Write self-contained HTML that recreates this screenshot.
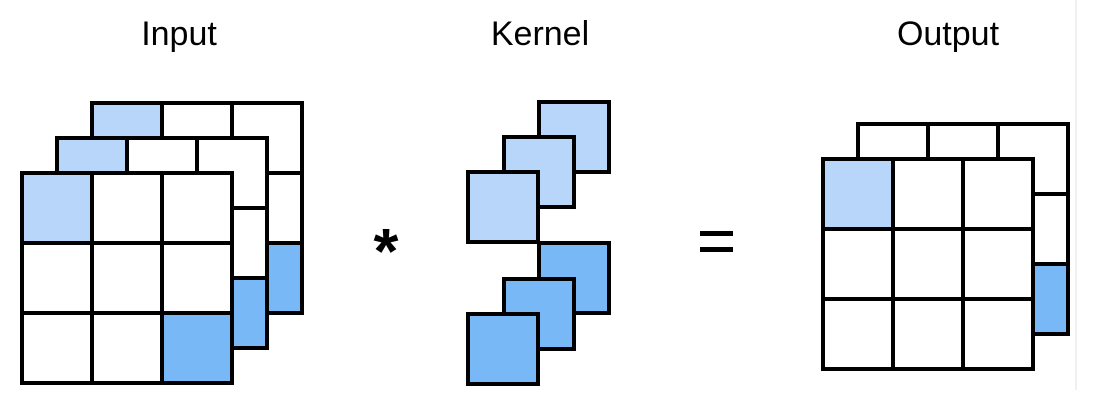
<!DOCTYPE html>
<html><head><style>html,body{margin:0;padding:0;background:#fff;}svg{display:block}</style></head>
<body>
<svg width="1098" height="418" viewBox="0 0 1098 418" xmlns="http://www.w3.org/2000/svg">
<line x1="1076" y1="0" x2="1076" y2="390" stroke="#f0f0f0" stroke-width="2"/>
<g font-family="Liberation Sans, Arial, sans-serif" font-size="34" fill="#000" text-anchor="middle">
<text x="179" y="45">Input</text>
<text x="540" y="45">Kernel</text>
<text x="948" y="45">Output</text>
</g>
<text x="386" y="273" font-family="Liberation Sans, Arial, sans-serif" font-size="64" font-weight="bold" text-anchor="middle">*</text>
<rect x="700" y="231" width="33" height="5" fill="#000"/>
<rect x="700" y="247" width="33" height="5" fill="#000"/>
<g stroke="#000" stroke-width="4" stroke-linejoin="miter">
<g transform="translate(92,103)">
<rect x="0" y="0" width="70" height="70" fill="#b7d6f9"/><rect x="70" y="0" width="70" height="70" fill="#fff"/><rect x="140" y="0" width="70" height="70" fill="#fff"/>
<rect x="0" y="70" width="70" height="70" fill="#fff"/><rect x="70" y="70" width="70" height="70" fill="#fff"/><rect x="140" y="70" width="70" height="70" fill="#fff"/>
<rect x="0" y="140" width="70" height="70" fill="#fff"/><rect x="70" y="140" width="70" height="70" fill="#fff"/><rect x="140" y="140" width="70" height="70" fill="#79b8f7"/>
</g>
<g transform="translate(57,138)">
<rect x="0" y="0" width="70" height="70" fill="#b7d6f9"/><rect x="70" y="0" width="70" height="70" fill="#fff"/><rect x="140" y="0" width="70" height="70" fill="#fff"/>
<rect x="0" y="70" width="70" height="70" fill="#fff"/><rect x="70" y="70" width="70" height="70" fill="#fff"/><rect x="140" y="70" width="70" height="70" fill="#fff"/>
<rect x="0" y="140" width="70" height="70" fill="#fff"/><rect x="70" y="140" width="70" height="70" fill="#fff"/><rect x="140" y="140" width="70" height="70" fill="#79b8f7"/>
</g>
<g transform="translate(22,173)">
<rect x="0" y="0" width="70" height="70" fill="#b7d6f9"/><rect x="70" y="0" width="70" height="70" fill="#fff"/><rect x="140" y="0" width="70" height="70" fill="#fff"/>
<rect x="0" y="70" width="70" height="70" fill="#fff"/><rect x="70" y="70" width="70" height="70" fill="#fff"/><rect x="140" y="70" width="70" height="70" fill="#fff"/>
<rect x="0" y="140" width="70" height="70" fill="#fff"/><rect x="70" y="140" width="70" height="70" fill="#fff"/><rect x="140" y="140" width="70" height="70" fill="#79b8f7"/>
</g>
<rect x="539" y="102" width="70" height="70" fill="#b7d6f9"/>
<rect x="504" y="137" width="70" height="70" fill="#b7d6f9"/>
<rect x="468" y="172" width="70" height="70" fill="#b7d6f9"/>
<rect x="539" y="243" width="70" height="70" fill="#79b8f7"/>
<rect x="504" y="279" width="70" height="70" fill="#79b8f7"/>
<rect x="468" y="314" width="70" height="70" fill="#79b8f7"/>
<g transform="translate(858,124)">
<rect x="0" y="0" width="70" height="70" fill="#fff"/><rect x="70" y="0" width="70" height="70" fill="#fff"/><rect x="140" y="0" width="70" height="70" fill="#fff"/>
<rect x="0" y="70" width="70" height="70" fill="#fff"/><rect x="70" y="70" width="70" height="70" fill="#fff"/><rect x="140" y="70" width="70" height="70" fill="#fff"/>
<rect x="0" y="140" width="70" height="70" fill="#fff"/><rect x="70" y="140" width="70" height="70" fill="#fff"/><rect x="140" y="140" width="70" height="70" fill="#79b8f7"/>
</g>
<g transform="translate(823,159)">
<rect x="0" y="0" width="70" height="70" fill="#b7d6f9"/><rect x="70" y="0" width="70" height="70" fill="#fff"/><rect x="140" y="0" width="70" height="70" fill="#fff"/>
<rect x="0" y="70" width="70" height="70" fill="#fff"/><rect x="70" y="70" width="70" height="70" fill="#fff"/><rect x="140" y="70" width="70" height="70" fill="#fff"/>
<rect x="0" y="140" width="70" height="70" fill="#fff"/><rect x="70" y="140" width="70" height="70" fill="#fff"/><rect x="140" y="140" width="70" height="70" fill="#fff"/>
</g>
</g>
</svg>
</body></html>
